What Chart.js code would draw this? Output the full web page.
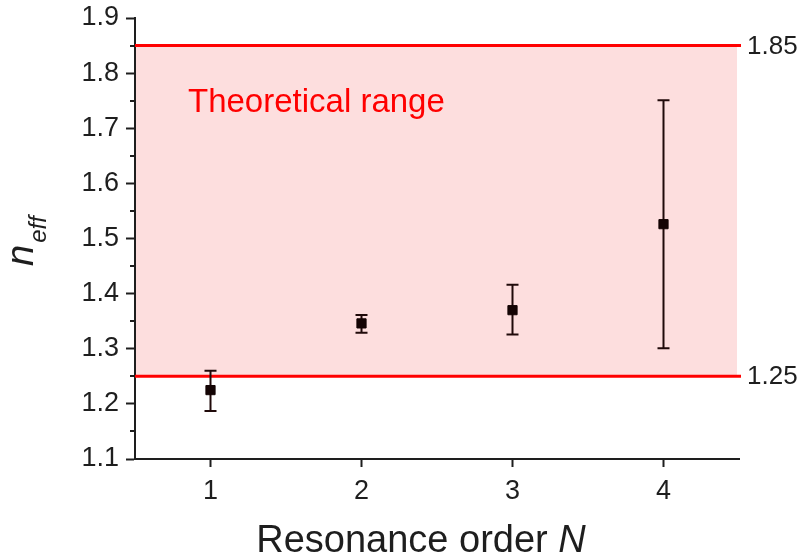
<!DOCTYPE html>
<html>
<head>
<meta charset="utf-8">
<script src="https://cdn.jsdelivr.net/npm/chart.js@4"></script>
<style>
  html, body { margin: 0; padding: 0; background: #fff; }
  #wrap { width: 802px; height: 560px; }
</style>
</head>
<body>
<div id="wrap"><canvas id="neffChart"></canvas></div>
<script>
// Measured effective index per resonance order
const orders = [1, 2, 3, 4];
const neff = [1.225, 1.346, 1.370, 1.526];
const neffLow = [1.187, 1.329, 1.326, 1.301];
const neffHigh = [1.260, 1.361, 1.416, 1.751];

// Theoretical band
const rangeMin = 1.25;
const rangeMax = 1.85;

const xTicks = [1, 2, 3, 4];
const yTicks = [1.1, 1.2, 1.3, 1.4, 1.5, 1.6, 1.7, 1.8, 1.9];
const yMinorTicks = [1.15, 1.25, 1.35, 1.45, 1.55, 1.65, 1.75, 1.85];

const FONT = "'Liberation Sans', Arial, sans-serif";
const INK = "#1e1e1e";

// shaded band behind the axes
const bandPlugin = {
  id: "band",
  beforeDraw(chart) {
    const { ctx, chartArea, scales: { y } } = chart;
    const top = y.getPixelForValue(rangeMax);
    const bot = y.getPixelForValue(rangeMin);
    ctx.save();
    ctx.fillStyle = "rgb(253, 222, 222)";
    ctx.fillRect(chartArea.left, top, chartArea.right - 2 - chartArea.left, bot - top);
    ctx.restore();
  },
  beforeDatasetsDraw(chart) {
    const { ctx, chartArea, scales: { y } } = chart;
    ctx.save();
    ctx.strokeStyle = "#ff0000";
    ctx.lineWidth = 3;
    [rangeMin, rangeMax].forEach((v) => {
      const py = y.getPixelForValue(v);
      ctx.beginPath();
      ctx.moveTo(chartArea.left, py);
      ctx.lineTo(chartArea.right + 2, py);
      ctx.stroke();
    });
    // value labels at the end of the lines
    ctx.fillStyle = INK;
    ctx.font = "26px " + FONT;
    ctx.textBaseline = "middle";
    ctx.textAlign = "left";
    [rangeMin, rangeMax].forEach((v) => {
      ctx.fillText(v.toFixed(2), chartArea.right + 8, y.getPixelForValue(v) + 1);
    });
    ctx.fillStyle = "#ff0000";
    ctx.font = "33px " + FONT;
    ctx.textBaseline = "alphabetic";
    ctx.fillText("Theoretical range", 188, 112);
    ctx.restore();
  },
};

// vertical error bars with caps
const errorBarPlugin = {
  id: "errorBars",
  beforeDatasetsDraw(chart) {
    const { ctx, scales: { x, y } } = chart;
    ctx.save();
    ctx.strokeStyle = "#200a0a";
    ctx.lineWidth = 2;
    orders.forEach((o, i) => {
      const px = x.getPixelForValue(o);
      const lo = y.getPixelForValue(neffLow[i]);
      const hi = y.getPixelForValue(neffHigh[i]);
      ctx.beginPath();
      ctx.moveTo(px, lo);
      ctx.lineTo(px, hi);
      ctx.moveTo(px - 6, lo);
      ctx.lineTo(px + 6, lo);
      ctx.moveTo(px - 6, hi);
      ctx.lineTo(px + 6, hi);
      ctx.stroke();
    });
    ctx.restore();
  },
};

// minor ticks and axis titles
const axisExtrasPlugin = {
  id: "axisExtras",
  afterDraw(chart) {
    const { ctx, chartArea, scales: { y } } = chart;
    ctx.save();
    ctx.strokeStyle = INK;
    ctx.lineWidth = 2;
    yMinorTicks.forEach((v) => {
      const py = Math.round(y.getPixelForValue(v));
      ctx.beginPath();
      ctx.moveTo(chartArea.left - 5, py);
      ctx.lineTo(chartArea.left, py);
      ctx.stroke();
    });

    ctx.fillStyle = INK;
    ctx.textBaseline = "alphabetic";
    ctx.textAlign = "left";
    // x title
    ctx.font = "38px " + FONT;
    const main = "Resonance order ";
    const w1 = ctx.measureText(main).width;
    ctx.font = "italic 38px " + FONT;
    const w2 = ctx.measureText("N").width;
    let tx = 421 - (w1 + w2) / 2;
    ctx.font = "38px " + FONT;
    ctx.fillText(main, tx, 552);
    ctx.font = "italic 38px " + FONT;
    ctx.fillText("N", tx + w1, 552);

    // y title, rotated
    ctx.translate(33, 266);
    ctx.rotate(-Math.PI / 2);
    ctx.font = "italic 38px " + FONT;
    ctx.fillText("n", 0, 0);
    const wn = ctx.measureText("n").width;
    ctx.font = "italic 24px " + FONT;
    ctx.fillText("eff", wn + 2, 13);
    ctx.restore();
  },
};

new Chart(document.getElementById("neffChart"), {
  type: "scatter",
  data: {
    datasets: [
      {
        data: orders.map((o, i) => ({ x: o, y: neff[i] })),
        pointStyle: "rect",
        pointRadius: 6.5,
        pointBorderWidth: 1,
        backgroundColor: "#140404",
        borderColor: "#140404",
      },
    ],
  },
  options: {
    responsive: true,
    maintainAspectRatio: false,
    animation: false,
    layout: { padding: { top: 18, right: 63, left: 0, bottom: 0 } },
    plugins: {
      legend: { display: false },
      tooltip: { enabled: false },
    },
    scales: {
      x: {
        type: "linear",
        min: 0.5,
        max: 4.5,
        afterBuildTicks: (s) => { s.ticks = xTicks.map((v) => ({ value: v })); },
        afterFit: (s) => {
          s.height = 101;
          s.paddingLeft = 0;
          s.paddingRight = 0;
        },
        grid: {
          drawOnChartArea: false,
          tickLength: 8,
          tickWidth: 2,
          tickColor: INK,
        },
        border: { display: true, color: INK, width: 2 },
        ticks: {
          color: INK,
          padding: 8,
          font: { family: FONT, size: 27 },
          callback: (v) => String(v),
        },
      },
      y: {
        min: 1.1,
        max: 1.9,
        afterBuildTicks: (s) => { s.ticks = yTicks.map((v) => ({ value: v })); },
        afterFit: (s) => {
          s.width = 135;
          s.paddingTop = 0;
          s.paddingBottom = 0;
        },
        grid: {
          drawOnChartArea: false,
          tickLength: 9,
          tickWidth: 2,
          tickColor: INK,
        },
        border: { display: true, color: INK, width: 2 },
        ticks: {
          color: INK,
          padding: 7,
          font: { family: FONT, size: 27 },
          callback: (v) => Number(v).toFixed(1),
        },
      },
    },
  },
  plugins: [bandPlugin, errorBarPlugin, axisExtrasPlugin],
});
</script>
</body>
</html>
